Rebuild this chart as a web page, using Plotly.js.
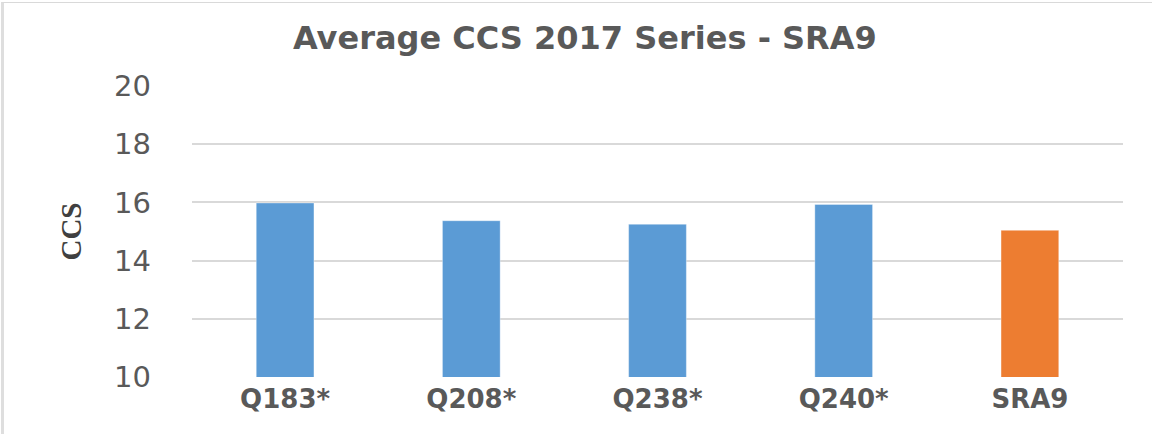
<!DOCTYPE html>
<html>
<head>
<meta charset="utf-8">
<script src="https://cdn.plot.ly/plotly-3.0.1.min.js"></script>
<style>
html,body{margin:0;padding:0;background:#fff;}
#wrap{position:relative;width:1152px;height:434px;background:#fff;}
#frame{position:absolute;left:1px;top:2px;right:0;bottom:0;border-left:3px solid #dedede;border-top:1px solid #d9d9d9;}
#chart{position:absolute;left:0;top:0;width:1152px;height:434px;}
</style>
</head>
<body>
<div id="wrap">
<div id="frame"></div>
<div id="chart"></div>
</div>
<script>
const categories = ["Q183*", "Q208*", "Q238*", "Q240*", "SRA9"];
const ccsValues = [15.98, 15.37, 15.25, 15.93, 15.04];
const barColors = ["#5B9BD5", "#5B9BD5", "#5B9BD5", "#5B9BD5", "#ED7D31"];
const yTicks = [10, 12, 14, 16, 18, 20];

const trace = {
  type: "bar",
  x: categories,
  y: ccsValues,
  marker: {color: barColors, line: {color: "rgba(255,255,255,0.35)", width: 1}},
  hoverinfo: "x+y"
};

const layout = {
  width: 1152,
  height: 434,
  margin: {l: 192, r: 29, t: 86, b: 57},
  paper_bgcolor: "rgba(0,0,0,0)",
  plot_bgcolor: "rgba(0,0,0,0)",
  showlegend: false,
  bargap: 0.69,
  title: {
    text: "Average CCS 2017 Series - SRA9",
    x: 0.422, xref: "paper", xanchor: "center",
    y: 0.912, yref: "container", yanchor: "middle",
    font: {family: "DejaVu Sans", size: 32, color: "#595959", weight: 700}
  },
  xaxis: {
    type: "category",
    showgrid: false,
    zeroline: false,
    showline: false,
    ticks: "",
    ticklabelstandoff: 4,
    tickfont: {family: "DejaVu Sans", size: 26, color: "#595959", weight: 700}
  },
  yaxis: {
    range: [10, 20],
    tickvals: yTicks,
    ticktext: yTicks.map(String),
    showgrid: true,
    gridcolor: "#d9d9d9",
    gridwidth: 2,
    zeroline: false,
    showline: false,
    ticks: "",
    ticklabelstandoff: 40,
    tickfont: {family: "DejaVu Sans", size: 29, color: "#595959"},
    title: {
      text: "CCS",
      standoff: 23,
      font: {family: "Liberation Sans Narrow", size: 29, color: "#404040", weight: 700}
    }
  }
};

Plotly.newPlot("chart", [trace], layout, {displayModeBar: false, staticPlot: true});
</script>
</body>
</html>
